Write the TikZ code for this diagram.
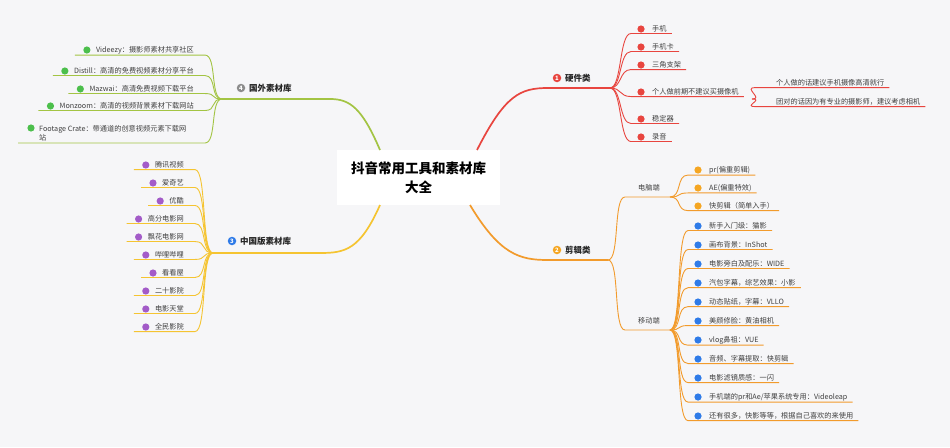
\documentclass[tikz,border=0pt]{standalone}
\usepackage{fontspec}
\setmainfont{Noto Sans CJK SC}
\begin{document}
\begin{tikzpicture}[x=1pt,y=-1pt,
  item/.style={inner sep=1pt,font=\fontsize{7.2}{8.6}\selectfont,text=black!75},
  lab/.style={inner sep=1pt,font=\fontsize{8.5}{10}\selectfont\bfseries,text=black!85},
  br/.style={line width=0.9pt},
  mbr/.style={line width=1.7pt},
  badge/.style={circle,inner sep=0pt,minimum size=8.5pt,font=\fontsize{6}{6}\selectfont\bfseries,text=white}]
\definecolor{bg}{HTML}{F6F6F8}
\definecolor{cr}{HTML}{E8453F}
\definecolor{co}{HTML}{F29B2C}
\definecolor{cy}{HTML}{F5C431}
\definecolor{cg}{HTML}{A3C443}
\definecolor{dg}{HTML}{4CBF4C}
\definecolor{dp}{HTML}{A35BC8}
\definecolor{db}{HTML}{2F7BE8}
\definecolor{dy}{HTML}{F5A623}
\fill[bg] (0,0) rectangle (950,447);
\useasboundingbox (0,0) rectangle (950,447);
\newcommand\RItem[5]{\fill[#5] (#2-10,#3) circle (3.6); \node[item,anchor=west] (#1) at (#2,#3) {#4};}
\newcommand\LItem[5]{\node[item,anchor=east] (#1) at (#2,#3) {#4}; \fill[#5] ([xshift=-8pt]#1.west) circle (3.6);}
\newcommand\RCon[3]{\draw[br,#3] (#1) .. controls +(12,0) and +(-12,0) .. ([xshift=-20pt]#2.south west) -- ([xshift=4pt]#2.south east);}
\newcommand\LCon[3]{\draw[br,#3] (#1) .. controls +(-12,0) and +(12,0) .. ([xshift=10pt]#2.south east) -- ([xshift=-20pt]#2.south west);}

% center
\node[fill=white,minimum width=163pt,minimum height=55pt,align=center,inner sep=0pt,
  font=\fontsize{13.5}{19}\selectfont\bfseries] (c) at (418.5,177.5) {抖音常用工具和素材库\\大全};

% hardware
\coordinate (h0) at (548,88); \coordinate (hf) at (610,88);
\draw[mbr,cr] (477,150) .. controls (505,95) and (520,88) .. (h0) -- (hf);
\node[badge,fill=cr] (hb) at (557,78) {1};
\node[lab,anchor=west] (hl) at (564,78) {硬件类};
\RItem{h1}{651}{29}{手机}{cr}
\RItem{h2}{651}{47}{手机卡}{cr}
\RItem{h3}{651}{65}{三角支架}{cr}
\RItem{h4}{651}{92}{个人做前期不建议买摄像机}{cr}
\RItem{h5}{651}{119}{稳定器}{cr}
\RItem{h6}{651}{137}{录音}{cr}
\foreach \n in {h1,h2,h3,h4,h5,h6}{\RCon{hf}{\n}{cr}}
\coordinate (hf2) at (752,99);
\node[item,anchor=west] (h7) at (775,83) {个人做的话建议手机摄像高清就行};
\node[item,anchor=west] (h8) at (775,102) {团对的话因为有专业的摄影师，建议考虑相机};
\RCon{hf2}{h7}{cr}\RCon{hf2}{h8}{cr}

% editing
\coordinate (e0) at (548,260); \coordinate (ef) at (608,260);
\draw[mbr,co] (470,205) .. controls (500,255) and (520,260) .. (e0) -- (ef);
\node[badge,fill=dy] at (557,250) {2};
\node[lab,anchor=west] at (564,250) {剪辑类};
\node[item,anchor=west] (pc) at (637,188) {电脑端};
\node[item,anchor=west] (mb) at (637,321) {移动端};
\draw[br,co] (ef) .. controls +(12,0) and +(-12,0) .. (625,197) -- (670,197);
\draw[br,co] (ef) .. controls +(12,0) and +(-12,0) .. (625,330) -- (670,330);
\coordinate (pf) at (670,197); \coordinate (mf) at (670,330);
\RItem{p1}{708}{170}{pr(偏重剪辑)}{dy}
\RItem{p2}{708}{188}{AE(偏重特效)}{dy}
\RItem{p3}{708}{206}{快剪辑（简单入手）}{dy}
\foreach \n in {p1,p2,p3}{\RCon{pf}{\n}{co}}
\RItem{m1}{708}{226}{新手入门级：猫影}{db}
\RItem{m2}{708}{245}{画布背景：InShot}{db}
\RItem{m3}{708}{264}{电影旁白及配乐：WIDE}{db}
\RItem{m4}{708}{283}{汽包字幕，综艺效果：小影}{db}
\RItem{m5}{708}{302}{动态贴纸，字幕：VLLO}{db}
\RItem{m6}{708}{321}{美颜修脸：黄油相机}{db}
\RItem{m7}{708}{340}{vlog鼻祖：VUE}{db}
\RItem{m8}{708}{359}{音频、字幕提取：快剪辑}{db}
\RItem{m9}{708}{378}{电影滤镜质感：一闪}{db}
\RItem{m10}{708}{397}{手机端的pr和Ae/苹果系统专用：Videoleap}{db}
\RItem{m11}{708}{416}{还有很多，快影等等，根据自己喜欢的来使用}{db}
\foreach \n in {m1,m2,m3,m4,m5,m6,m7,m8,m9,m10,m11}{\RCon{mf}{\n}{co}}

% China
\coordinate (y0) at (320,253); \coordinate (yf) at (213,253);
\draw[mbr,cy] (380,205) .. controls (360,250) and (345,253) .. (y0) -- (yf);
\node[badge,fill=db] at (232,241) {3};
\node[lab,anchor=west] at (239,241) {中国版素材库};
\LItem{c1}{185}{165}{腾讯视频}{dp}
\LItem{c2}{185}{183}{爱奇艺}{dp}
\LItem{c3}{185}{201}{优酷}{dp}
\LItem{c4}{185}{219}{高分电影网}{dp}
\LItem{c5}{185}{237}{飘花电影网}{dp}
\LItem{c6}{185}{255}{哔哩哔哩}{dp}
\LItem{c7}{185}{273}{看看屋}{dp}
\LItem{c8}{185}{291}{二十影院}{dp}
\LItem{c9}{185}{309}{电影天堂}{dp}
\LItem{c10}{185}{327}{全民影院}{dp}
\foreach \n in {c1,c2,c3,c4,c5,c6,c7,c8,c9,c10}{\LCon{yf}{\n}{cy}}

% foreign
\coordinate (g0) at (330,99); \coordinate (gf) at (222,99);
\draw[mbr,cg] (380,150) .. controls (362,108) and (350,99) .. (g0) -- (gf);
\node[badge,fill=black!45] at (241,88) {4};
\node[lab,anchor=west] at (248,88) {国外素材库};
\LItem{f1}{195}{50}{Videezy：摄影师素材共享社区}{dg}
\LItem{f2}{195}{71}{Distill：高清的免费视频素材分享平台}{dg}
\LItem{f3}{195}{89}{Mazwai：高清免费视频下载平台}{dg}
\LItem{f4}{195}{106}{Monzoom：高清的视频背景素材下载网站}{dg}
\node[item,anchor=west,align=left] (f5) at (38,133) {Footage Crate：带通道的创意视频元素下载网\\站};
\fill[dg] (31,128) circle (3.6);
\LCon{gf}{f1}{cg}\LCon{gf}{f2}{cg}\LCon{gf}{f3}{cg}\LCon{gf}{f4}{cg}
\draw[br,cg] (gf) .. controls +(-12,0) and +(12,0) .. (205,143) -- (18,143);
\end{tikzpicture}
\end{document}
